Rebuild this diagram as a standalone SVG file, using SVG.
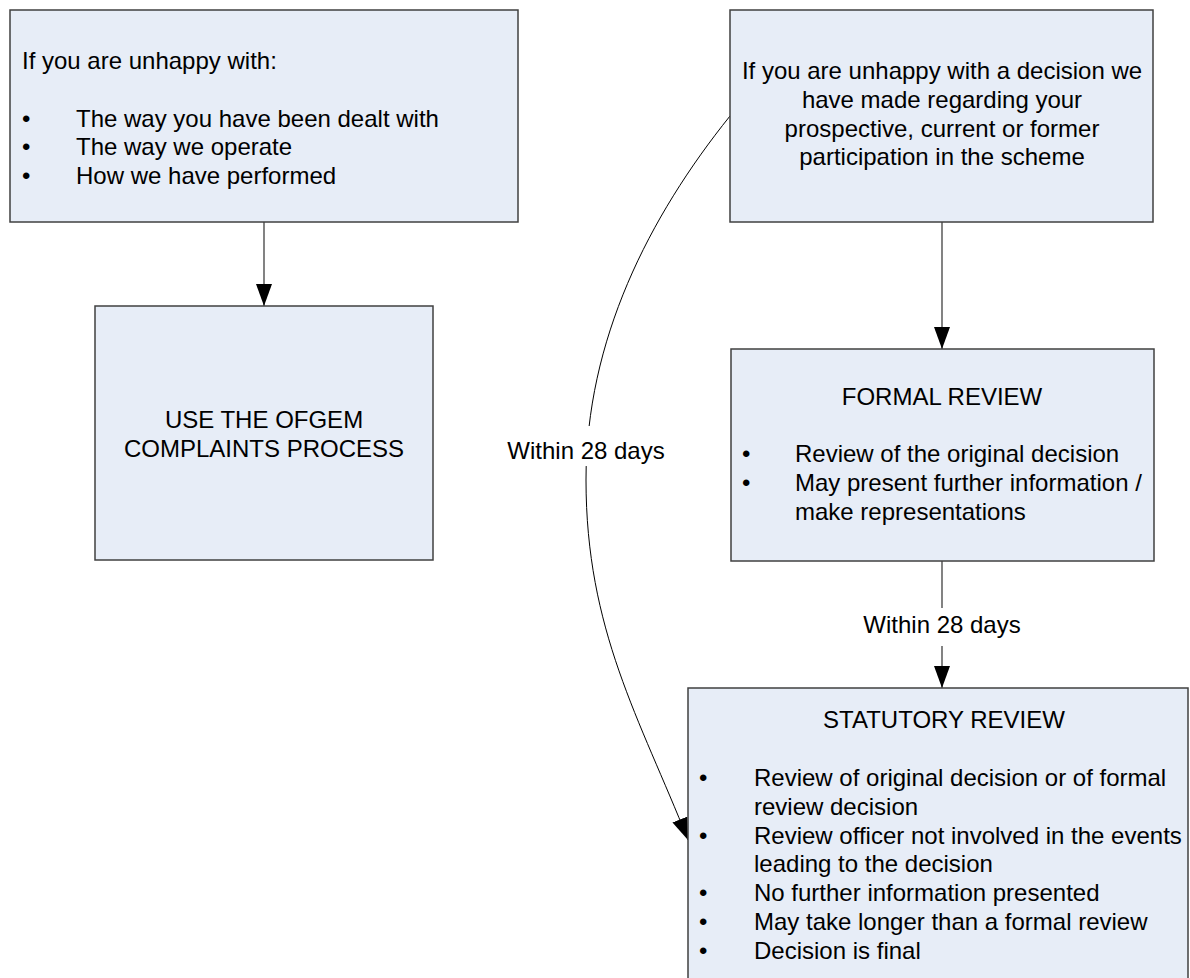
<svg xmlns="http://www.w3.org/2000/svg" width="1190" height="978" viewBox="0 0 1190 978">
<defs>
<marker id="arr" markerUnits="userSpaceOnUse" markerWidth="22" markerHeight="16" refX="22" refY="8" orient="auto">
<path d="M0,0 L22,8 L0,16 z" fill="#000"/>
</marker>
<style>
.box{fill:#e7edf7;stroke:#404040;stroke-width:1.5}
.t{font-family:"Liberation Sans",Arial,sans-serif;font-size:24px;fill:#000}
.c{text-anchor:middle}
.conn{fill:none;stroke:#404040;stroke-width:1.3}
.curve{fill:none;stroke:#000;stroke-width:1}
.lbg{fill:#fff}
</style>
</defs>
<rect width="1190" height="978" fill="#fff"/>

<g id="connectors">
<line class="conn" x1="264" y1="222" x2="264" y2="306" marker-end="url(#arr)"/>
<line class="conn" x1="942" y1="222" x2="942" y2="349" marker-end="url(#arr)"/>
<line class="conn" x1="942" y1="561" x2="942" y2="688" marker-end="url(#arr)"/>
<path class="curve" d="M730,116 C649,217 586,340 586,480 C586,630 640,719 688,840" marker-end="url(#arr)"/>
<rect class="lbg" x="506" y="426" width="160" height="40"/>
<text class="t c" x="586" y="459">Within 28 days</text>
<rect class="lbg" x="860" y="608" width="164" height="38"/>
<text class="t c" x="942" y="633">Within 28 days</text>
</g>

<g id="node-unhappy-general">
<rect class="box" x="10" y="10" width="508" height="212"/>
<text class="t" x="22" y="69">If you are unhappy with:</text>
<text class="t" x="22" y="126.5">•</text><text class="t" x="76" y="126.5">The way you have been dealt with</text>
<text class="t" x="22" y="155.3">•</text><text class="t" x="76" y="155.3">The way we operate</text>
<text class="t" x="22" y="184">•</text><text class="t" x="76" y="184">How we have performed</text>
</g>

<g id="node-ofgem">
<rect class="box" x="95" y="306" width="338" height="254"/>
<text class="t c" x="264" y="428">USE THE OFGEM</text>
<text class="t c" x="264" y="457">COMPLAINTS PROCESS</text>
</g>

<g id="node-unhappy-decision">
<rect class="box" x="730" y="10" width="423" height="212"/>
<text class="t c" x="942" y="79">If you are unhappy with a decision we</text>
<text class="t c" x="942" y="107.8">have made regarding your</text>
<text class="t c" x="942" y="136.5">prospective, current or former</text>
<text class="t c" x="942" y="165.3">participation in the scheme</text>
</g>

<g id="node-formal">
<rect class="box" x="731" y="349" width="423" height="212"/>
<text class="t c" x="942" y="405">FORMAL REVIEW</text>
<text class="t" x="742" y="462">•</text><text class="t" x="795" y="462">Review of the original decision</text>
<text class="t" x="742" y="491">•</text><text class="t" x="795" y="491">May present further information /</text>
<text class="t" x="795" y="519.5">make representations</text>
</g>

<g id="node-statutory">
<rect class="box" x="688" y="688" width="500" height="300"/>
<text class="t c" x="944" y="728">STATUTORY REVIEW</text>
<text class="t" x="699" y="786">•</text><text class="t" x="754" y="786">Review of original decision or of formal</text>
<text class="t" x="754" y="815">review decision</text>
<text class="t" x="699" y="843.5">•</text><text class="t" x="754" y="843.5">Review officer not involved in the events</text>
<text class="t" x="754" y="872">leading to the decision</text>
<text class="t" x="699" y="901">•</text><text class="t" x="754" y="901">No further information presented</text>
<text class="t" x="699" y="930">•</text><text class="t" x="754" y="930">May take longer than a formal review</text>
<text class="t" x="699" y="958.6">•</text><text class="t" x="754" y="958.6">Decision is final</text>
</g>
</svg>
